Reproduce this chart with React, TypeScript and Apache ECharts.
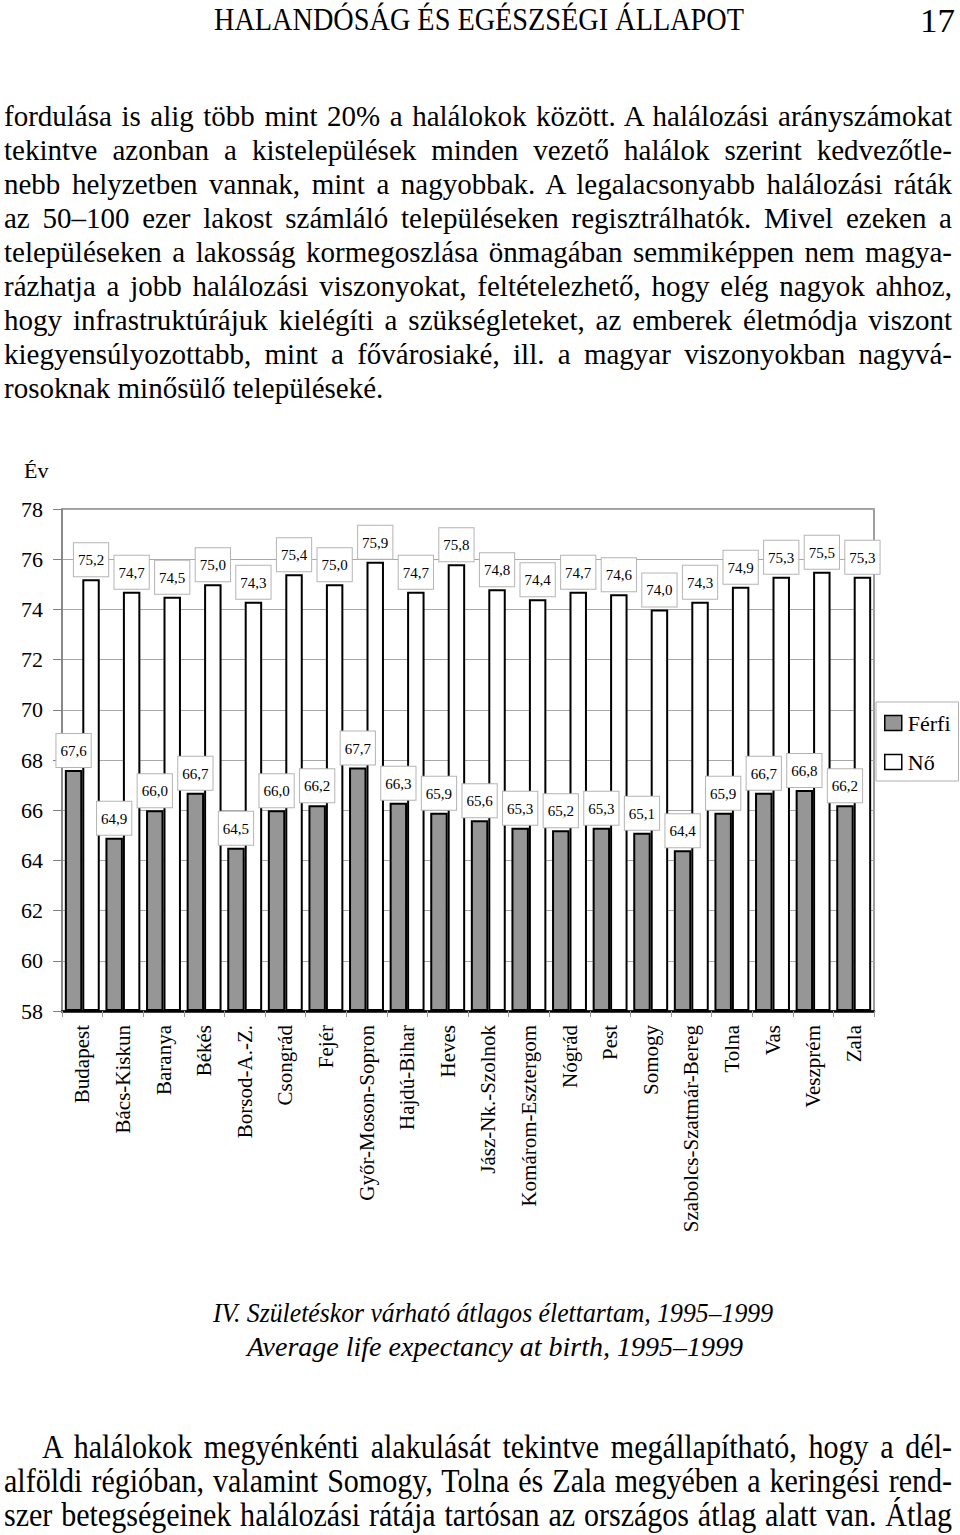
import React, { useEffect, useRef } from "react";
import * as echarts from "echarts";

// ---------- data ----------
const categories = [
  "Budapest",
  "Bács-Kiskun",
  "Baranya",
  "Békés",
  "Borsod-A.-Z.",
  "Csongrád",
  "Fejér",
  "Győr-Moson-Sopron",
  "Hajdú-Bihar",
  "Heves",
  "Jász-Nk.-Szolnok",
  "Komárom-Esztergom",
  "Nógrád",
  "Pest",
  "Somogy",
  "Szabolcs-Szatmár-Bereg",
  "Tolna",
  "Vas",
  "Veszprém",
  "Zala",
];

const maleValues = [
  67.6, 64.9, 66.0, 66.7, 64.5, 66.0, 66.2, 67.7, 66.3, 65.9,
  65.6, 65.3, 65.2, 65.3, 65.1, 64.4, 65.9, 66.7, 66.8, 66.2,
];

const femaleValues = [
  75.2, 74.7, 74.5, 75.0, 74.3, 75.4, 75.0, 75.9, 74.7, 75.8,
  74.8, 74.4, 74.7, 74.6, 74.0, 74.3, 74.9, 75.3, 75.5, 75.3,
];

const seriesNames = ["Férfi", "Nő"];
const yMin = 58;
const yMax = 78;
const yInterval = 2;
const yAxisName = "Év";

// ---------- page text ----------
const headerText = "HALANDÓSÁG ÉS EGÉSZSÉGI ÁLLAPOT";
const pageNumber = "17";

const introLines = [
  "fordulása is alig több mint 20% a halálokok között. A halálozási arányszámokat",
  "tekintve azonban a kistelepülések minden vezető halálok szerint kedvezőtle-",
  "nebb helyzetben vannak, mint a nagyobbak. A legalacsonyabb halálozási ráták",
  "az 50–100 ezer lakost számláló településeken regisztrálhatók. Mivel ezeken a",
  "településeken a lakosság kormegoszlása önmagában semmiképpen nem magya-",
  "rázhatja a jobb halálozási viszonyokat, feltételezhető, hogy elég nagyok ahhoz,",
  "hogy infrastruktúrájuk kielégíti a szükségleteket, az emberek életmódja viszont",
  "kiegyensúlyozottabb, mint a fővárosiaké, ill. a magyar viszonyokban nagyvá-",
  "rosoknak minősülő településeké.",
];

const captionLines = [
  "IV. Születéskor várható átlagos élettartam, 1995–1999",
  "Average life expectancy at birth, 1995–1999",
];

const outroLines = [
  "A halálokok megyénkénti alakulását tekintve megállapítható, hogy a dél-",
  "alföldi régióban, valamint Somogy, Tolna és Zala megyében a keringési rend-",
  "szer betegségeinek halálozási rátája tartósan az országos átlag alatt van. Átlag",
];

const SERIF = "'Liberation Serif', 'Times New Roman', serif";

const fmt = (v: number) => v.toFixed(1).replace(".", ",");

const labelStyle = {
  show: true,
  position: "top" as const,
  distance: 3,
  formatter: (p: any) => fmt(p.value),
  fontSize: 15,
  lineHeight: 16,
  fontFamily: SERIF,
  color: "#000",
  backgroundColor: "#fff",
  borderColor: "#b4b4b4",
  borderWidth: 1,
  padding: [9, 4, 8, 4],
};

export default function App() {
  const ref = useRef<HTMLDivElement>(null);

  useEffect(() => {
    if (!ref.current) return;
    const chart = echarts.init(ref.current, undefined, { renderer: "svg" });
    chart.setOption({
      animation: false,
      backgroundColor: "transparent",
      textStyle: { fontFamily: SERIF },
      grid: {
        left: 62,
        right: 86,
        top: 509,
        bottom: 524,
        show: true,
        borderColor: "#808080",
        borderWidth: 1.5,
        backgroundColor: "transparent",
      },
      legend: {
        data: seriesNames,
        orient: "vertical",
        left: 876,
        top: 702,
        icon: "rect",
        itemWidth: 17,
        itemHeight: 15,
        itemGap: 17,
        padding: [10, 8, 8, 8],
        borderColor: "#b0b0b0",
        borderWidth: 1,
        backgroundColor: "#fff",
        itemStyle: { borderColor: "#000", borderWidth: 1.5 },
        textStyle: {
          fontSize: 22,
          fontFamily: SERIF,
          color: "#000",
          padding: [0, 0, 0, 1],
        },
      },
      xAxis: {
        type: "category",
        data: categories,
        axisLine: { lineStyle: { color: "#000", width: 2.5 } },
        axisTick: { show: true, length: 6, lineStyle: { color: "#999" } },
        axisLabel: {
          rotate: 90,
          interval: 0,
          margin: 14,
          fontSize: 21,
          color: "#000",
          fontFamily: SERIF,
        },
        splitLine: { show: false },
      },
      yAxis: {
        type: "value",
        min: yMin,
        max: yMax,
        interval: yInterval,
        startValue: yMin,
        axisLine: { show: true, lineStyle: { color: "#808080", width: 1.5 } },
        axisTick: { show: true, length: 9, lineStyle: { color: "#808080" } },
        axisLabel: {
          fontSize: 22,
          color: "#000",
          margin: 19,
          fontFamily: SERIF,
        },
        splitLine: { lineStyle: { color: "#a8a8a8", width: 1 } },
      },
      series: [
        {
          name: seriesNames[0],
          type: "bar",
          data: maleValues,
          barGap: "0%",
          barCategoryGap: "14%",
          itemStyle: { color: "#969696", borderColor: "#000", borderWidth: 2 },
          label: labelStyle,
        },
        {
          name: seriesNames[1],
          type: "bar",
          data: femaleValues,
          barGap: "0%",
          barCategoryGap: "14%",
          itemStyle: { color: "#fff", borderColor: "#000", borderWidth: 2 },
          label: labelStyle,
        },
      ],
      graphic: [
        {
          type: "text",
          x: 24,
          y: 459,
          style: {
            text: yAxisName,
            fontSize: 22,
            fontFamily: SERIF,
            fill: "#000",
            verticalAlign: "top",
          },
        },
      ],
    });
    return () => chart.dispose();
  }, []);

  const introFs = 29;
  const introTop = (baseline: number) => baseline - 0.8375 * introFs;

  const outroFs = 33;
  const outroK = 0.91;

  return (
    <div
      style={{
        position: "absolute",
        left: 0,
        top: 0,
        width: 960,
        height: 1535,
        background: "#fff",
        overflow: "hidden",
      }}
    >
      <div
        ref={ref}
        style={{ position: "absolute", left: 0, top: 0, width: 960, height: 1535 }}
      />
      <svg
        width={960}
        height={1535}
        style={{ position: "absolute", left: 0, top: 0, pointerEvents: "none" }}
      >
        <text
          x={214}
          y={30}
          textLength={530}
          lengthAdjust="spacingAndGlyphs"
          fontSize={32}
          fontFamily={SERIF}
          fill="#000"
        >
          {headerText}
        </text>
        <text
          x={920}
          y={32}
          textLength={35}
          lengthAdjust="spacingAndGlyphs"
          fontSize={34}
          fontFamily={SERIF}
          fill="#000"
        >
          {pageNumber}
        </text>
        <text
          x={213}
          y={1322}
          textLength={560}
          lengthAdjust="spacingAndGlyphs"
          fontSize={28}
          fontStyle="italic"
          fontFamily={SERIF}
          fill="#000"
        >
          {captionLines[0]}
        </text>
        <text
          x={247}
          y={1356}
          textLength={496}
          lengthAdjust="spacingAndGlyphs"
          fontSize={28}
          fontStyle="italic"
          fontFamily={SERIF}
          fill="#000"
        >
          {captionLines[1]}
        </text>
      </svg>
      {introLines.map((t, i) => {
        const last = i === introLines.length - 1;
        return (
          <div
            key={i}
            style={{
              position: "absolute",
              left: 4,
              top: introTop(126 + i * 34),
              width: 948,
              fontSize: introFs,
              lineHeight: introFs + "px",
              fontFamily: SERIF,
              color: "#000",
              textAlign: last ? "left" : "justify",
              textAlignLast: last ? "left" : "justify",
            }}
          >
            {t}
          </div>
        );
      })}
      {outroLines.map((t, i) => {
        const left = i === 0 ? 42 : 4;
        const target = 952 - left;
        return (
          <div
            key={"o" + i}
            style={{
              position: "absolute",
              left,
              top: 1459 + i * 34 - 0.8375 * outroFs,
              width: target / outroK,
              fontSize: outroFs,
              lineHeight: outroFs + "px",
              fontFamily: SERIF,
              color: "#000",
              whiteSpace: "nowrap",
              textAlign: "justify",
              textAlignLast: "justify",
              transform: `scaleX(${outroK})`,
              transformOrigin: "0 0",
            }}
          >
            {t}
          </div>
        );
      })}
    </div>
  );
}
